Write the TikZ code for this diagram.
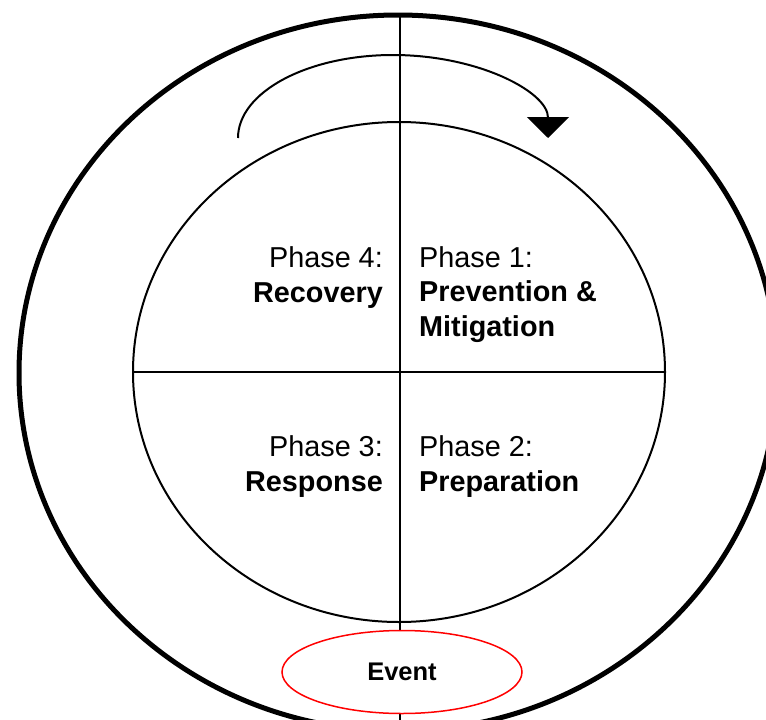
\documentclass[tikz,border=0pt]{standalone}
\usepackage{fontspec}
\setmainfont{Liberation Sans}
\usetikzlibrary{positioning, shapes.geometric, arrows.meta}

\begin{document}
\begin{tikzpicture}[x=1pt, y=-1pt,
    ring/.style={draw, ellipse, inner sep=0pt},
    phase/.style={inner sep=0pt, font=\fontsize{28.8}{34.5}\selectfont}]
    \useasboundingbox (0,0) rectangle (766,720);

    %Rings
    \node[ring, line width=5pt, minimum width=758pt, minimum height=716pt] at (398,373) (outer) {};
    \node[ring, line width=2pt, minimum width=532pt, minimum height=500pt] at (399,372) (wheel) {};

    %Lines
    \coordinate (top) at (400,14);
    \coordinate (bottom) at (400,720);
    \draw[line width=2pt] (top) -- (bottom);
    \draw[line width=1.5pt] (wheel.west) -- (wheel.east);

    %Cycle arrow
    \draw[line width=2pt, -{Triangle[width=42pt, length=21pt]}] (238,138) arc[start angle=180, end angle=360, x radius=155, y radius=83];

    %Phases
    \node[phase, anchor=base east, align=right] at (383,302) (p4) {Phase 4:\\\textbf{Recovery}};
    \node[phase, anchor=base west, align=left] at (419,336) (p1) {Phase 1:\\\textbf{Prevention \&}\\\textbf{Mitigation}};
    \node[phase, anchor=base east, align=right] at (383,491) (p3) {Phase 3:\\\textbf{Response}};
    \node[phase, anchor=base west, align=left] at (419,491) (p2) {Phase 2:\\\textbf{Preparation}};

    %Event
    \node[draw=red, line width=1.5pt, fill=white, ellipse, minimum width=240pt, minimum height=83pt, inner sep=0pt, font=\fontsize{25.5}{30}\selectfont\bfseries] at (402,672) (event) {Event};
\end{tikzpicture}
\end{document}
